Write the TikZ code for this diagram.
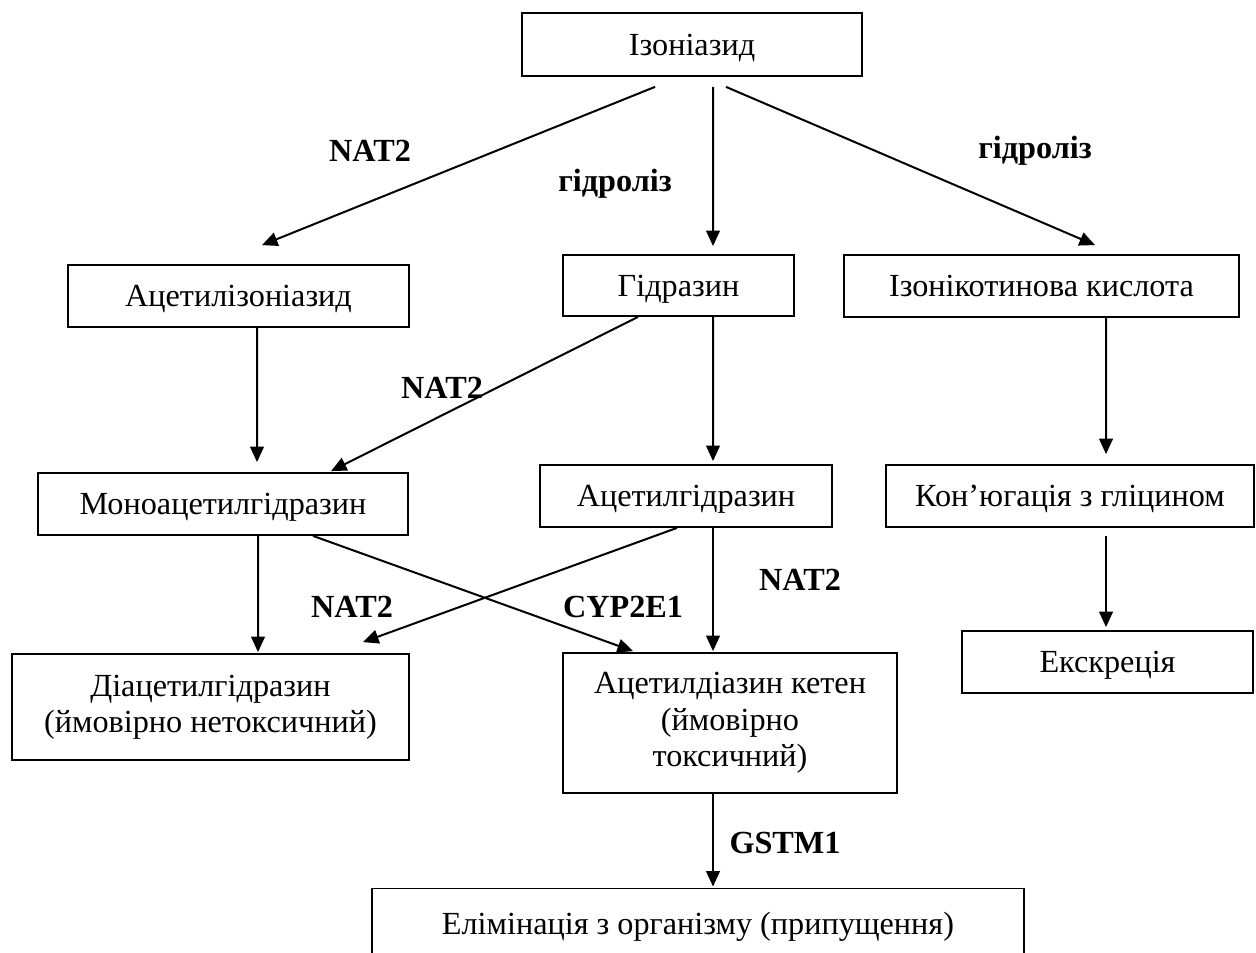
\documentclass[tikz,border=0pt]{standalone}
\usepackage{fontspec}
\setmainfont{Liberation Serif}
\usetikzlibrary{arrows.meta,calc}

\begin{document}
\begin{tikzpicture}[x=0.45pt, y=-0.45pt,
  font=\fontsize{14.5}{16.4}\selectfont,
  box/.style={draw, line width=0.8pt, inner sep=0pt, text height=10.8pt, text depth=1.1pt},
  tallbox/.style={draw, line width=0.8pt, inner sep=0pt, align=center},
  arr/.style={line width=0.9pt, -{Triangle[length=7pt, width=6.2pt]}},
  lab/.style={font=\fontsize{14.5}{16.4}\selectfont\bfseries, anchor=base, inner sep=0pt}]
\useasboundingbox (0,0) rectangle (1256,953);
\clip (0,0) rectangle (1256,953);

% substances
\node[box, minimum width=153pt, minimum height=28.35pt] (iso) at (692,44.5) {Ізоніазид};
\node[box, minimum width=153.45pt, minimum height=27.9pt] (acetiso) at (238.5,296) {Ацетилізоніазид};
\node[box, minimum width=103.95pt, minimum height=27.45pt] (hydr) at (678.5,285.5) {Гідразин};
\node[box, minimum width=177.75pt, minimum height=27.9pt] (isonic) at (1041.5,286) {Ізонікотинова кислота};
\node[box, minimum width=166.5pt, minimum height=27.9pt] (monoac) at (223,504) {Моноацетилгідразин};
\node[box, minimum width=131.4pt, minimum height=27.9pt] (achydr) at (686,496) {Ацетилгідразин};
\node[box, minimum width=165.6pt, minimum height=27.9pt] (conj) at (1070,496) {Кон’югація з гліцином};
\node[box, minimum width=130.95pt, minimum height=27.9pt] (excr) at (1107.5,662) {Екскреція};
\node[tallbox, minimum width=178.65pt, minimum height=47.7pt] (diac) at (210.5,707) {Діацетилгідразин\\(ймовірно нетоксичний)};
\node[tallbox, minimum width=150.3pt, minimum height=63pt] (keten) at (730,723) {Ацетилдіазин кетен\\(ймовірно\\токсичний)};
\node[box, minimum width=293.4pt, minimum height=32pt] (elim) at (698,924) {Елімінація з організму (припущення)};

% reactions
\draw[arr] ($(iso.south)+(-37,10)$) -- ($(acetiso.north)+(23.5,-19)$); % NAT2
\draw[arr] ($(iso.south)+(21,10)$) -- ($(hydr.north)+(34.5,-8)$); % hydrolysis
\draw[arr] ($(iso.south)+(34,10)$) -- ($(isonic.north)+(53.5,-9)$); % hydrolysis
\draw[arr] ($(acetiso.south)+(18.5,0)$) -- ($(monoac.north)+(34,-10)$);
\draw[arr] ($(hydr.south)+(-40.5,0)$) -- ($(monoac.north)+(108,-1)$); % NAT2
\draw[arr] ($(hydr.south)+(34.5,0)$) -- ($(achydr.north)+(27,-3)$);
\draw[arr] ($(isonic.south)+(64.5,0)$) -- ($(conj.north)+(36,-10)$);
\draw[arr] ($(conj.south)+(36,8)$) -- ($(excr.north)+(-1.5,-3)$);
\draw[arr] ($(monoac.south)+(35,0)$) -- ($(diac.north)+(47.5,-1)$);
\draw[arr] ($(monoac.south)+(90,0)$) -- ($(keten.north)+(-97,-1)$); % CYP2E1
\draw[arr] ($(achydr.south)+(-9,0)$) -- ($(diac.north)+(152.5,-11)$); % NAT2
\draw[arr] ($(achydr.south)+(27,0)$) -- ($(keten.north)+(-17,-1)$); % NAT2
\draw[arr] ($(keten.south)+(-17,0)$) -- ($(elim.north)+(15,-1)$); % GSTM1

% enzymes
\node[lab] (n1) at (370,162) {NAT2};
\node[lab] (h1) at (615,192) {гідроліз};
\node[lab] (h2) at (1035,159) {гідроліз};
\node[lab] (n2) at (442,399) {NAT2};
\node[lab] (n3) at (352,617) {NAT2};
\node[lab] (c1) at (623,617) {CYP2E1};
\node[lab] (n4) at (800,590) {NAT2};
\node[lab] (g1) at (785,853) {GSTM1};
\end{tikzpicture}
\end{document}
